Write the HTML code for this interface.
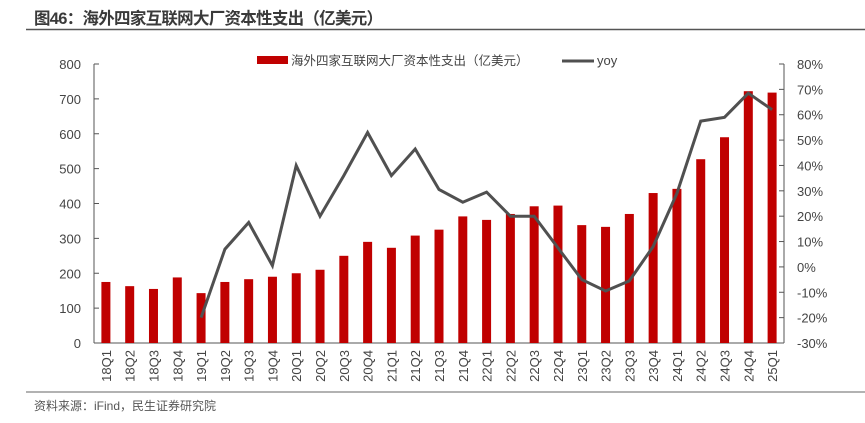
<!DOCTYPE html>
<html><head><meta charset="utf-8"><style>
body{margin:0;background:#fff;width:865px;height:418px;overflow:hidden;font-family:"Liberation Sans","Noto Sans CJK SC",sans-serif}
</style></head><body>
<svg width="865" height="418" id="svg" font-family="Liberation Sans, Noto Sans CJK SC, sans-serif">
<text x="34" y="24" font-size="16.5" font-weight="bold" fill="#3a3a3a" textLength="349">图46：海外四家互联网大厂资本性支出（亿美元）</text>
<line x1="26" y1="29.5" x2="865" y2="29.5" stroke="#555" stroke-width="1.5"/>
<line x1="26" y1="392" x2="865" y2="392" stroke="#666" stroke-width="1"/>
<text x="34" y="410" font-size="12" fill="#555">资料来源：iFind，民生证券研究院</text>
<g>
<rect x="257" y="56" width="31" height="8" fill="#c00000"/>
<text x="291" y="65" font-size="12.5" fill="#444">海外四家互联网大厂资本性支出（亿美元）</text>
<line x1="562" y1="61" x2="594" y2="61" stroke="#505050" stroke-width="3"/>
<text x="597" y="65" font-size="13" fill="#444">yoy</text>
</g>
<g id="plot"></g>
</svg>
<script>
const categories=["18Q1","18Q2","18Q3","18Q4","19Q1","19Q2","19Q3","19Q4","20Q1","20Q2","20Q3","20Q4","21Q1","21Q2","21Q3","21Q4","22Q1","22Q2","22Q3","22Q4","23Q1","23Q2","23Q3","23Q4","24Q1","24Q2","24Q3","24Q4","25Q1"];
const capex=[175,163,155,188,143,175,183,190,200,210,250,290,273,308,325,363,353,370,392,394,338,333,370,430,442,527,590,722,718];
const yoy=[null,null,null,null,-20,7,17.5,0.5,40,20,36,53,36,46.5,30.5,25.5,29.5,20,20,7.5,-5,-9.5,-5.5,8,29,57.5,59,68.5,62];
const leftTicks=[0,100,200,300,400,500,600,700,800];
const rightTicks=[-30,-20,-10,0,10,20,30,40,50,60,70,80];
const NS="http://www.w3.org/2000/svg";
const g=document.getElementById('plot');
const L=94,R=784,T=64,B=343;
const step=(R-L)/categories.length;
const xc=i=>L+step*(i+0.5);
const yL=v=>B-(v/800)*(B-T);
const yR=v=>B-((v+30)/110)*(B-T);
function mk(t,a){const e=document.createElementNS(NS,t);for(const k in a)e.setAttribute(k,a[k]);g.appendChild(e);return e;}
let e=mk('line',{x1:L,y1:T,x2:L,y2:B,stroke:'#555','stroke-width':1});


e=mk('line',{x1:R,y1:T,x2:R,y2:B,stroke:'#555','stroke-width':1});


e=mk('line',{x1:L,y1:B,x2:R,y2:B,stroke:'#555','stroke-width':1});


leftTicks.forEach(v=>{
  const y=yL(v);
  let t=mk('line',{x1:L,y1:y,x2:L+5,y2:y,stroke:'#555'});
  
  
  t=mk('text',{x:L-13,y:y+5,'text-anchor':'end','font-size':13,fill:'#444'});
  t.textContent=v;
  
  
});
rightTicks.forEach(v=>{
  const y=yR(v);
  let t=mk('line',{x1:R-5,y1:y,x2:R,y2:y,stroke:'#555'});
  
  
  t=mk('text',{x:R+13,y:y+5,'font-size':13,fill:'#444'});
  t.textContent=v+'%';
  
  
});
const bw=9;
capex.forEach((v,i)=>{
  const b=mk('rect',{x:xc(i)-bw/2,y:yL(v),width:bw,height:B-yL(v),fill:'#c00000'});
  
  
});
categories.forEach((c,i)=>{
  const t=mk('text',{x:0,y:0,'font-size':13,fill:'#444','text-anchor':'end',transform:`translate(${xc(i)+5},${B+7}) rotate(-90)`});
  t.textContent=c;
  
  
});
let d='';
yoy.forEach((v,i)=>{if(v===null)return;d+=(d?'L':'M')+xc(i).toFixed(1)+','+yR(v).toFixed(1);});
e=mk('path',{d:d,fill:'none',stroke:'#505050','stroke-width':3,'stroke-linejoin':'miter'});


</script>
</body></html>
